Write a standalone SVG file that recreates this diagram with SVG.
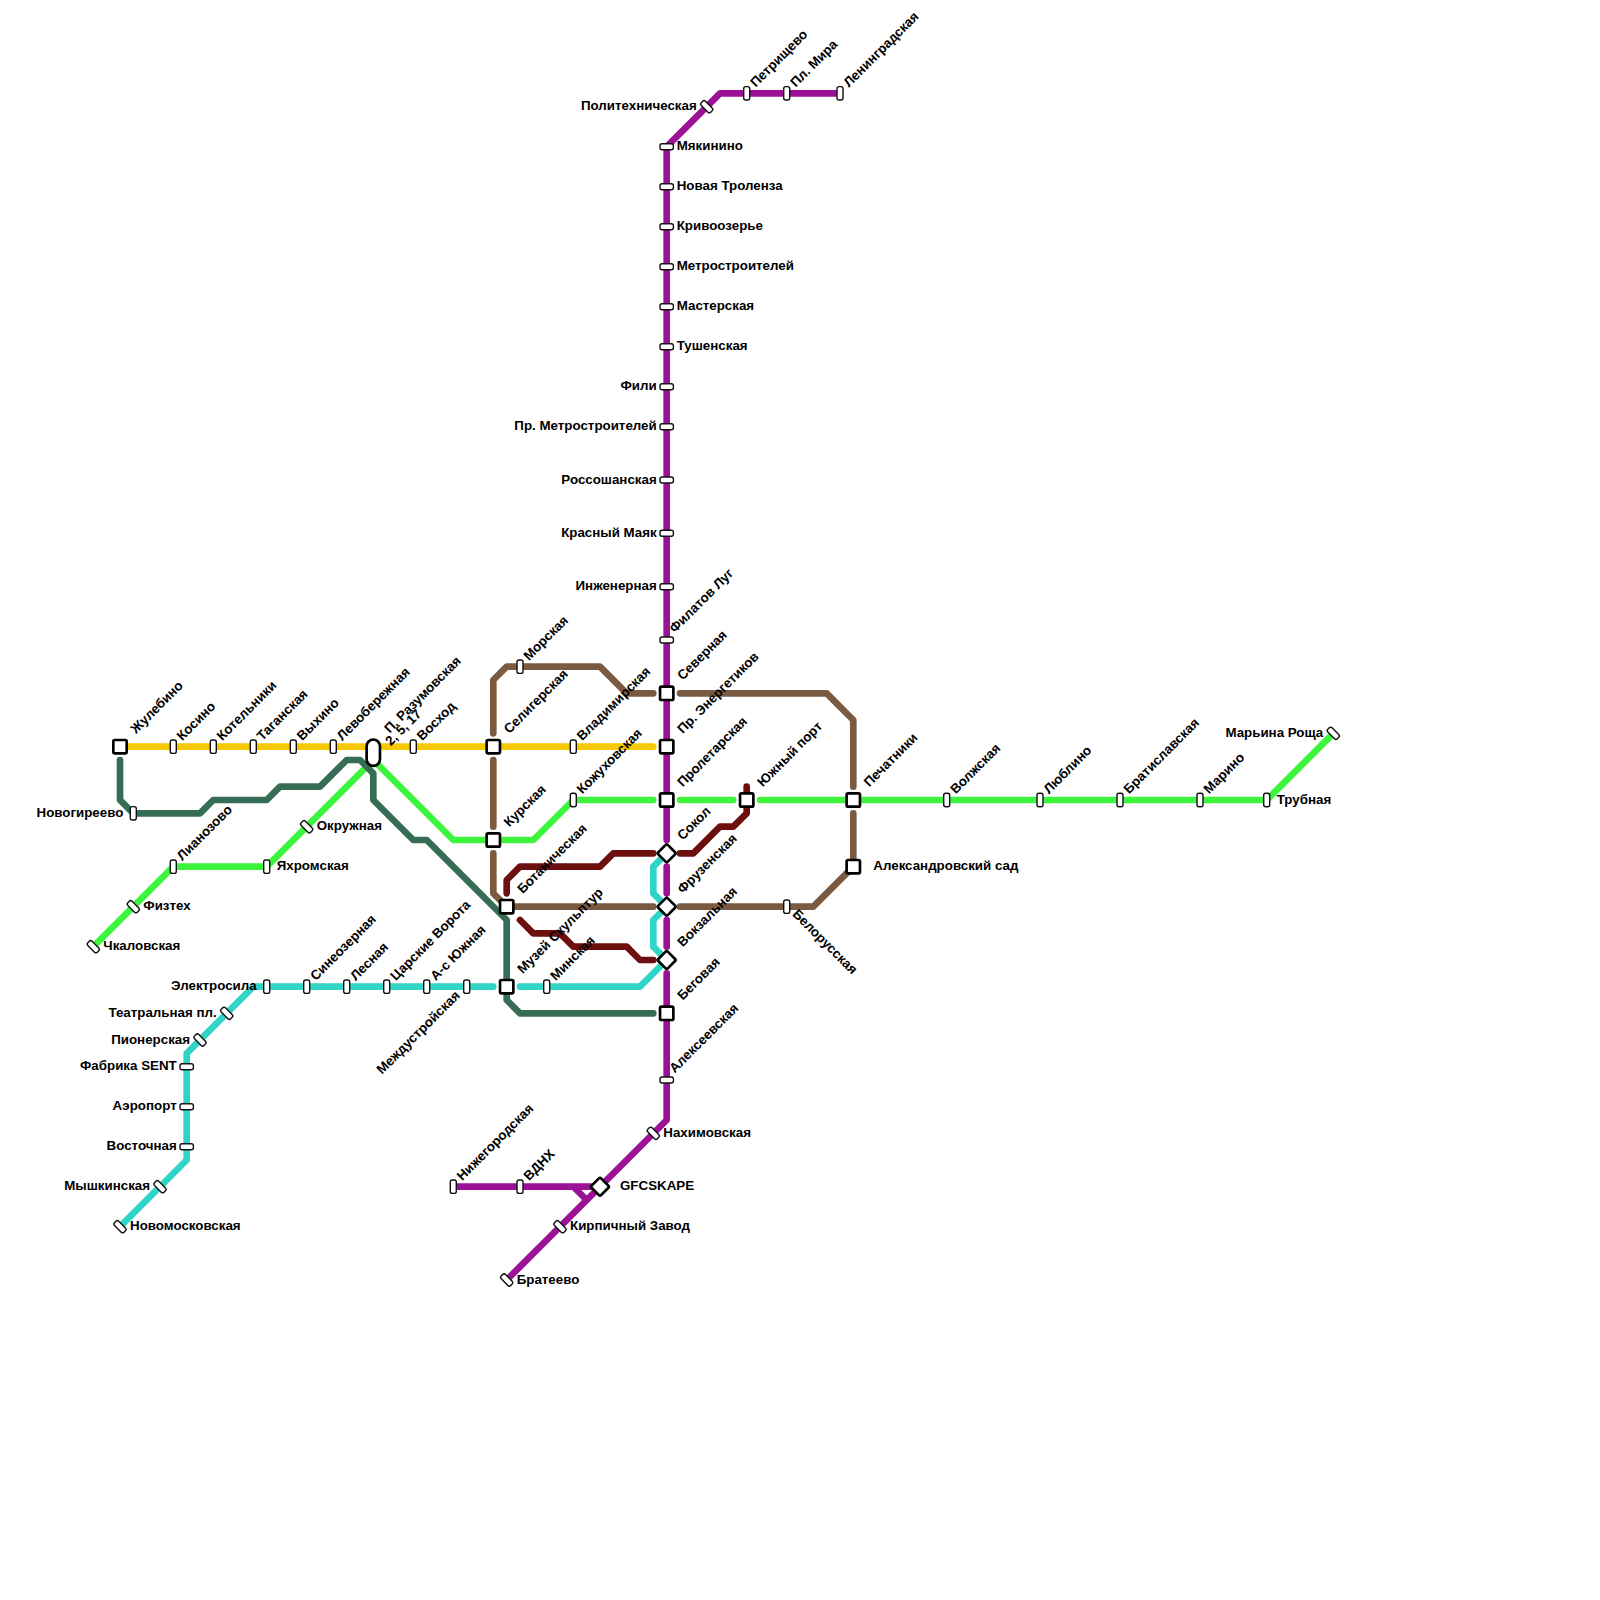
<svg xmlns="http://www.w3.org/2000/svg" width="1600" height="1600" viewBox="0 0 1600 1600">
<style>
text{font-family:"Liberation Sans",Arial,sans-serif;font-weight:700;font-size:13.33px;fill:#000}
.e{text-anchor:end}
.ln{fill:none;stroke-width:6.67;stroke-linecap:round;stroke-linejoin:round}
.y{stroke:#f5c800}.g{stroke:#3df53d}.d{stroke:#356e54}.b{stroke:#7a5a40}.p{stroke:#9c1296}.r{stroke:#6e0f0f}.t{stroke:#30d5c8}
.tk{fill:#fff;stroke:#111;stroke-width:1.4}
.ix{fill:#fff;stroke:#000;stroke-width:2.67}
</style>
<defs>
<rect id="v" class="tk" x="-3" y="-6.7" width="6" height="13.4" rx="2"/>
<rect id="h" class="tk" x="-6.7" y="-3" width="13.4" height="6" rx="2"/>
<rect id="s" class="tk" x="-3" y="-6.7" width="6" height="13.4" rx="2" transform="rotate(-45)"/>
<rect id="q" class="ix" x="-6.67" y="-6.67" width="13.34" height="13.34" rx="1.5"/>
<rect id="m" class="ix" x="-6.67" y="-6.67" width="13.34" height="13.34" rx="1.5" transform="rotate(45)"/>
</defs>
<g id="connectors">
<path class="ln y" d="M120 746.7H653.3"/>
<path class="ln g" d="M93.3 946.7L173.3 866.7H266.7L373.3 760"/>
<path class="ln g" d="M373.3 760L453.3 840H533.3L573.3 800H653.3"/>
<path class="ln g" d="M680 800H733.3M760 800H1266.7L1333.3 733.3"/>
<path class="ln d" d="M120 760V800L133.3 813.3H200L213.3 800H266.7L280 786.7H320L346.7 760H360L373.3 773.3V800L413.3 840H426.7L506.7 920V1000L520 1013.3H653.3"/>
<path class="ln b" d="M493.3 733.3V680L506.7 666.7H600L626.7 693.3H653.3"/>
<path class="ln b" d="M680 693.3H826.7L853.3 720V786.7"/>
<path class="ln b" d="M853.3 813.3V866.7L813.3 906.7H680"/>
<path class="ln b" d="M493.3 760V826.7"/>
<path class="ln b" d="M493.3 853.3V893.3L506.7 906.7H653.3"/>
<path class="ln r" d="M506.7 893.3V880L520 866.7H600L613.3 853.3H653.3"/>
<path class="ln r" d="M680 853.3H693.3L720 826.7H733.3L746.7 813.3V786.7"/>
<path class="ln r" d="M520 920L533.3 933.3H560L573.3 946.7H626.7L640 960H653.3"/>
<path class="ln t" d="M120 1226.7L186.7 1160V1053.3L253.3 986.7H493.3"/>
<path class="ln t" d="M520 986.7H640L666.7 960L653.3 946.7V920L666.7 906.7L653.3 893.3V866.7L666.7 853.3"/>
<path class="ln p" d="M840 93.3H720L666.7 146.7V840"/>
<path class="ln p" d="M666.7 866.7V893.3M666.7 920V946.7"/>
<path class="ln p" d="M666.7 973.3V1120L506.7 1280"/>
<path class="ln p" d="M453.3 1186.7H600M573.3 1186.7L586.7 1200"/>
</g>
<g id="nodes">
<g id="zhulebino" transform="translate(120,746.7)"><use href="#q"/><text transform="translate(16,-12.5) rotate(-45)">Жулебино</text></g>
<g id="kosino" transform="translate(173.3,746.7)"><use href="#v"/><text transform="translate(9,-5.5) rotate(-45)">Косино</text></g>
<g id="kotelniki" transform="translate(213.3,746.7)"><use href="#v"/><text transform="translate(9,-5.5) rotate(-45)">Котельники</text></g>
<g id="taganskaya" transform="translate(253.3,746.7)"><use href="#v"/><text transform="translate(9,-5.5) rotate(-45)">Таганская</text></g>
<g id="vykhino" transform="translate(293.3,746.7)"><use href="#v"/><text transform="translate(9,-5.5) rotate(-45)">Выхино</text></g>
<g id="levoberezhnaya" transform="translate(333.3,746.7)"><use href="#v"/><text transform="translate(9,-5.5) rotate(-45)">Левобережная</text></g>
<g id="razumovskaya" transform="translate(373.3,752.7)"><rect class="ix" x="-6.67" y="-13.2" width="13.34" height="26.4" rx="6.67"/><text transform="translate(16.5,-19) rotate(-45)">П. Разумовская</text><text transform="translate(17.5,-6.5) rotate(-45)">2, 5, 17</text></g>
<g id="voskhod" transform="translate(413.3,746.7)"><use href="#v"/><text transform="translate(9,-5.5) rotate(-45)">Восход</text></g>
<g id="seligerskaya" transform="translate(493.3,746.7)"><use href="#q"/><text transform="translate(16,-12.5) rotate(-45)">Селигерская</text></g>
<g id="vladimirskaya" transform="translate(573.3,746.7)"><use href="#v"/><text transform="translate(9,-5.5) rotate(-45)">Владимирская</text></g>
<g id="kozhukhovskaya" transform="translate(573.3,800)"><use href="#v"/><text transform="translate(9,-5.5) rotate(-45)">Кожуховская</text></g>
<g id="kurskaya" transform="translate(493.3,840)"><use href="#q"/><text transform="translate(16,-12.5) rotate(-45)">Курская</text></g>
<g id="botanicheskaya" transform="translate(506.7,906.7)"><use href="#q"/><text transform="translate(16,-12.5) rotate(-45)">Ботаническая</text></g>
<g id="muzei" transform="translate(506.7,986.7)"><use href="#q"/><text transform="translate(16,-12.5) rotate(-45)">Музей Скульптур</text></g>
<g id="minskaya" transform="translate(546.7,986.7)"><use href="#v"/><text transform="translate(9,-5.5) rotate(-45)">Минская</text></g>
<g id="morskaya" transform="translate(520,666.7)"><use href="#v"/><text transform="translate(9,-5.5) rotate(-45)">Морская</text></g>
<g id="novogireevo" transform="translate(133.3,813.3)"><use href="#v"/><text class="e" x="-10" y="3.5">Новогиреево</text></g>
<g id="lianozovo" transform="translate(173.3,866.7)"><use href="#v"/><text transform="translate(9,-5.5) rotate(-45)">Лианозово</text></g>
<g id="yakhromskaya" transform="translate(266.7,866.7)"><use href="#v"/><text x="10" y="3.5">Яхромская</text></g>
<g id="okruzhnaya" transform="translate(306.7,826.7)"><use href="#s"/><text x="10" y="3.5">Окружная</text></g>
<g id="fiztekh" transform="translate(133.3,906.7)"><use href="#s"/><text x="10" y="3.5">Физтех</text></g>
<g id="chkalovskaya" transform="translate(93.3,946.7)"><use href="#s"/><text x="10" y="3.5">Чкаловская</text></g>
<g id="elektrosila" transform="translate(266.7,986.7)"><use href="#v"/><text class="e" x="-10" y="3.5">Электросила</text></g>
<g id="sineozernaya" transform="translate(306.7,986.7)"><use href="#v"/><text transform="translate(9,-5.5) rotate(-45)">Синеозерная</text></g>
<g id="lesnaya" transform="translate(346.7,986.7)"><use href="#v"/><text transform="translate(9,-5.5) rotate(-45)">Лесная</text></g>
<g id="tsarskie" transform="translate(386.7,986.7)"><use href="#v"/><text transform="translate(9,-5.5) rotate(-45)">Царские Ворота</text></g>
<g id="as-yuzhnaya" transform="translate(426.7,986.7)"><use href="#v"/><text transform="translate(9,-5.5) rotate(-45)">А-с Южная</text></g>
<g id="mezhdustroiskaya" transform="translate(466.7,986.7)"><use href="#v"/><text class="e" transform="translate(-6,9.5) rotate(-45)">Междустройская</text></g>
<g id="teatralnaya" transform="translate(226.7,1013.3)"><use href="#s"/><text class="e" x="-10" y="3.5">Театральная пл.</text></g>
<g id="pionerskaya" transform="translate(200,1040)"><use href="#s"/><text class="e" x="-10" y="3.5">Пионерская</text></g>
<g id="fabrika" transform="translate(186.7,1066.7)"><use href="#h"/><text class="e" x="-10" y="3.5">Фабрика SENT</text></g>
<g id="aeroport" transform="translate(186.7,1106.7)"><use href="#h"/><text class="e" x="-10" y="3.5">Аэропорт</text></g>
<g id="vostochnaya" transform="translate(186.7,1146.7)"><use href="#h"/><text class="e" x="-10" y="3.5">Восточная</text></g>
<g id="myshkinskaya" transform="translate(160,1186.7)"><use href="#s"/><text class="e" x="-10" y="3.5">Мышкинская</text></g>
<g id="novomoskovskaya" transform="translate(120,1226.7)"><use href="#s"/><text x="10" y="3.5">Новомосковская</text></g>
<g id="nizhegorodskaya" transform="translate(453.3,1186.7)"><use href="#v"/><text transform="translate(9,-5.5) rotate(-45)">Нижегородская</text></g>
<g id="vdnkh" transform="translate(520,1186.7)"><use href="#v"/><text transform="translate(9,-5.5) rotate(-45)">ВДНХ</text></g>
<g id="gfcskape" transform="translate(600,1186.7)"><use href="#m"/><text x="20" y="3.5">GFCSKAPE</text></g>
<g id="kirpichny" transform="translate(560,1226.7)"><use href="#s"/><text x="10" y="3.5">Кирпичный Завод</text></g>
<g id="brateevo" transform="translate(506.7,1280)"><use href="#s"/><text x="10" y="3.5">Братеево</text></g>
<g id="nakhimovskaya" transform="translate(653.3,1133.3)"><use href="#s"/><text x="10" y="3.5">Нахимовская</text></g>
<g id="politekhnicheskaya" transform="translate(706.7,106.7)"><use href="#s"/><text class="e" x="-10" y="3.5">Политехническая</text></g>
<g id="petrishchevo" transform="translate(746.7,93.3)"><use href="#v"/><text transform="translate(9,-5.5) rotate(-45)">Петрищево</text></g>
<g id="pl-mira" transform="translate(786.7,93.3)"><use href="#v"/><text transform="translate(9,-5.5) rotate(-45)">Пл. Мира</text></g>
<g id="leningradskaya" transform="translate(840,93.3)"><use href="#v"/><text transform="translate(9,-5.5) rotate(-45)">Ленинградская</text></g>
<g id="myakinino" transform="translate(666.7,146.7)"><use href="#h"/><text x="10" y="3.5">Мякинино</text></g>
<g id="novaya-trolenza" transform="translate(666.7,186.7)"><use href="#h"/><text x="10" y="3.5">Новая Троленза</text></g>
<g id="krivoozerye" transform="translate(666.7,226.7)"><use href="#h"/><text x="10" y="3.5">Кривоозерье</text></g>
<g id="metrostroitelei" transform="translate(666.7,266.7)"><use href="#h"/><text x="10" y="3.5">Метростроителей</text></g>
<g id="masterskaya" transform="translate(666.7,306.7)"><use href="#h"/><text x="10" y="3.5">Мастерская</text></g>
<g id="tushenskaya" transform="translate(666.7,346.7)"><use href="#h"/><text x="10" y="3.5">Тушенская</text></g>
<g id="fili" transform="translate(666.7,386.7)"><use href="#h"/><text class="e" x="-10" y="3.5">Фили</text></g>
<g id="pr-metrostroitelei" transform="translate(666.7,426.7)"><use href="#h"/><text class="e" x="-10" y="3.5">Пр. Метростроителей</text></g>
<g id="rossoshanskaya" transform="translate(666.7,480)"><use href="#h"/><text class="e" x="-10" y="3.5">Россошанская</text></g>
<g id="krasny-mayak" transform="translate(666.7,533.3)"><use href="#h"/><text class="e" x="-10" y="3.5">Красный Маяк</text></g>
<g id="inzhenernaya" transform="translate(666.7,586.7)"><use href="#h"/><text class="e" x="-10" y="3.5">Инженерная</text></g>
<g id="filatov-lug" transform="translate(666.7,640)"><use href="#h"/><text transform="translate(8,-6.5) rotate(-45)">Филатов Луг</text></g>
<g id="severnaya" transform="translate(666.7,693.3)"><use href="#q"/><text transform="translate(16,-12.5) rotate(-45)">Северная</text></g>
<g id="pr-energetikov" transform="translate(666.7,746.7)"><use href="#q"/><text transform="translate(16,-12.5) rotate(-45)">Пр. Энергетиков</text></g>
<g id="proletarskaya" transform="translate(666.7,800)"><use href="#q"/><text transform="translate(16,-12.5) rotate(-45)">Пролетарская</text></g>
<g id="sokol" transform="translate(666.7,853.3)"><use href="#m"/><text transform="translate(16,-12.5) rotate(-45)">Сокол</text></g>
<g id="fruzenskaya" transform="translate(666.7,906.7)"><use href="#m"/><text transform="translate(16,-12.5) rotate(-45)">Фрузенская</text></g>
<g id="vokzalnaya" transform="translate(666.7,960)"><use href="#m"/><text transform="translate(16,-12.5) rotate(-45)">Вокзальная</text></g>
<g id="begovaya" transform="translate(666.7,1013.3)"><use href="#q"/><text transform="translate(16,-12.5) rotate(-45)">Беговая</text></g>
<g id="alekseevskaya" transform="translate(666.7,1080)"><use href="#h"/><text transform="translate(8,-6.5) rotate(-45)">Алексеевская</text></g>
<g id="yuzhny-port" transform="translate(746.7,800)"><use href="#q"/><text transform="translate(16,-12.5) rotate(-45)">Южный порт</text></g>
<g id="pechatniki" transform="translate(853.3,800)"><use href="#q"/><text transform="translate(16,-12.5) rotate(-45)">Печатники</text></g>
<g id="aleksandrovsky" transform="translate(853.3,866.7)"><use href="#q"/><text x="20" y="3.5">Александровский сад</text></g>
<g id="belorusskaya" transform="translate(786.7,906.7)"><use href="#v"/><text transform="translate(5,8) rotate(45)">Белорусская</text></g>
<g id="volzhskaya" transform="translate(946.7,800)"><use href="#v"/><text transform="translate(9,-5.5) rotate(-45)">Волжская</text></g>
<g id="lyublino" transform="translate(1040,800)"><use href="#v"/><text transform="translate(9,-5.5) rotate(-45)">Люблино</text></g>
<g id="bratislavskaya" transform="translate(1120,800)"><use href="#v"/><text transform="translate(9,-5.5) rotate(-45)">Братиславская</text></g>
<g id="marino" transform="translate(1200,800)"><use href="#v"/><text transform="translate(9,-5.5) rotate(-45)">Марино</text></g>
<g id="trubnaya" transform="translate(1266.7,800)"><use href="#v"/><text x="10" y="3.5">Трубная</text></g>
<g id="maryina-roshcha" transform="translate(1333.3,733.3)"><use href="#s"/><text class="e" x="-10" y="3.5">Марьина Роща</text></g>
</g>
</svg>
